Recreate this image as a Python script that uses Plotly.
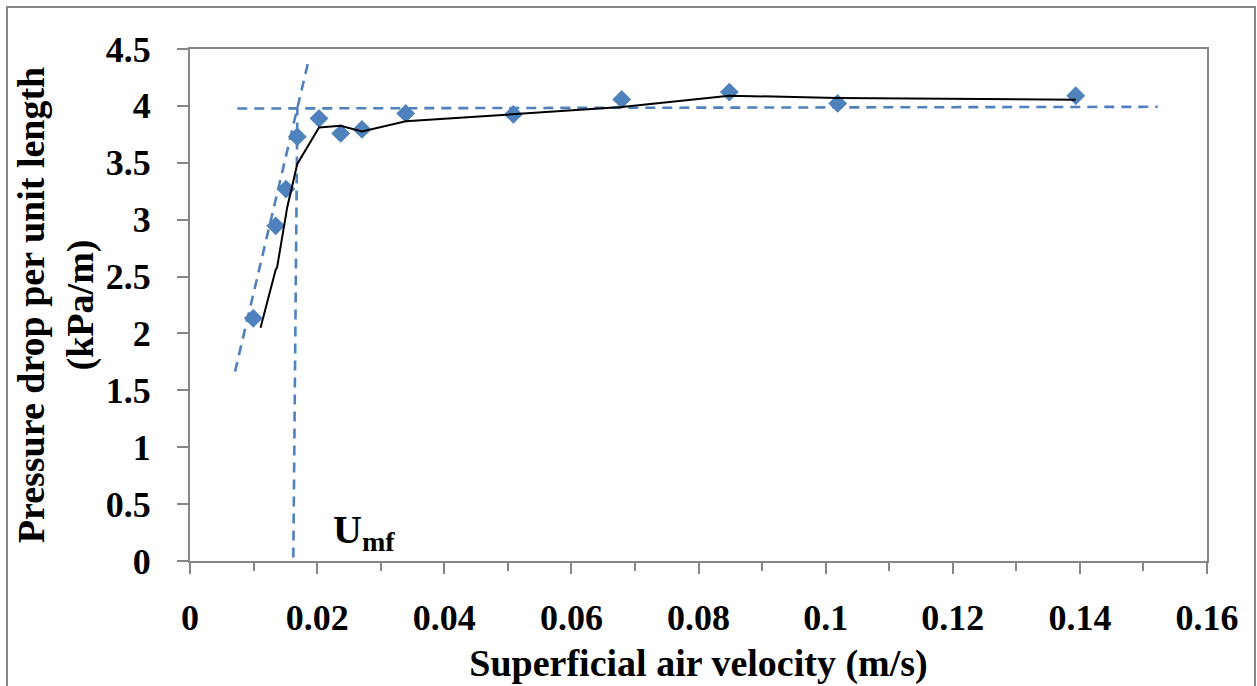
import plotly.graph_objects as go

# Measured pressure drop vs superficial air velocity
velocity = [0.00996, 0.01348, 0.0151, 0.01688, 0.0203, 0.02371, 0.02706,
            0.03394, 0.05087, 0.06792, 0.08485, 0.1019, 0.13935]
pressure_drop = [2.133, 2.946, 3.269, 3.729, 3.890, 3.758, 3.793,
                 3.934, 3.925, 4.057, 4.121, 4.022, 4.089]

# Moving-average trend line
trend_x = [0.0111, 0.01348, 0.0137, 0.0153, 0.01688, 0.0203, 0.02371, 0.02706,
           0.03394, 0.05087, 0.06792, 0.08485, 0.1019, 0.13935]
trend_y = [2.05, 2.56, 2.58, 3.11, 3.49, 3.81, 3.825, 3.775,
           3.865, 3.93, 3.99, 4.09, 4.07, 4.055]

# Construction lines used to locate the minimum fluidisation velocity
fixed_bed_x = [0.00708, 0.01861]
fixed_bed_y = [1.664, 4.388]
fluid_bed_x = [0.00744, 0.15225]
fluid_bed_y = [3.977, 3.992]
umf_x = [0.01626, 0.01689]
umf_y = [0.03, 3.98]

x_ticks = [0, 0.02, 0.04, 0.06, 0.08, 0.1, 0.12, 0.14, 0.16]
x_tick_text = ["0", "0.02", "0.04", "0.06", "0.08", "0.1", "0.12", "0.14", "0.16"]
y_ticks = [0, 0.5, 1, 1.5, 2, 2.5, 3, 3.5, 4, 4.5]
y_tick_text = ["0", "0.5", "1", "1.5", "2", "2.5", "3", "3.5", "4", "4.5"]

BLUE = "#4F81BD"
AXIS_GRAY = "#868686"
FONT = "Liberation Serif"

fig = go.Figure()

dash_style = dict(color=BLUE, width=2.6, dash="10px,7px")
fig.add_trace(go.Scatter(x=fixed_bed_x, y=fixed_bed_y, mode="lines", line=dash_style,
                         hoverinfo="skip"))
fig.add_trace(go.Scatter(x=fluid_bed_x, y=fluid_bed_y, mode="lines", line=dash_style,
                         hoverinfo="skip"))
fig.add_trace(go.Scatter(x=umf_x, y=umf_y, mode="lines", line=dash_style,
                         hoverinfo="skip"))

fig.add_trace(go.Scatter(x=velocity, y=pressure_drop, mode="markers",
                         marker=dict(symbol="diamond", size=14.5, color=BLUE,
                                     line=dict(width=0))))

fig.add_trace(go.Scatter(x=trend_x, y=trend_y, mode="lines",
                         line=dict(color="black", width=2)))

fig.add_annotation(
    x=0.0171, y=0.0, xref="x", yref="y",
    text="U<sub>mf</sub>", showarrow=False,
    xanchor="left", yanchor="bottom", xshift=32, yshift=2,
    font=dict(family=FONT, size=40, color="black", weight="bold"),
)

# Outer chart border
fig.add_shape(type="rect", xref="paper", yref="paper",
              x0=(7 - 190) / 1017, x1=(1255 - 190) / 1017,
              y0=(561 - 720) / 512, y1=(561 - 7) / 512,
              line=dict(color=AXIS_GRAY, width=2), layer="below")

axis_common = dict(
    showgrid=False, zeroline=False, showline=True, linecolor=AXIS_GRAY,
    linewidth=2, mirror=True, ticks="outside", tickcolor=AXIS_GRAY,
    tickwidth=2, ticklen=11,
    tickfont=dict(family=FONT, size=36, color="black", weight="bold"),
    title_font=dict(family=FONT, size=38, color="black", weight="bold"),
)

fig.update_xaxes(
    range=[0, 0.16], tickvals=x_ticks, ticktext=x_tick_text,
    minor=dict(dtick=0.01, tick0=0, ticks="outside", ticklen=8,
               tickcolor=AXIS_GRAY, tickwidth=2),
    ticklabelstandoff=13,
    title=dict(text="Superficial air velocity (m/s)", standoff=12,
               font=dict(size=39)),
    **axis_common,
)
fig.update_yaxes(
    range=[0, 4.5], tickvals=y_ticks, ticktext=y_tick_text,
    ticklabelstandoff=19,
    title=dict(text="Pressure drop per unit length<br>(kPa/m)", standoff=0),
    **axis_common,
)

fig.update_layout(
    width=1257, height=686,
    margin=dict(l=190, r=50, t=49, b=125, autoexpand=False),
    paper_bgcolor="white", plot_bgcolor="white",
    showlegend=False,
    font=dict(family=FONT, color="black"),
)

fig.write_html("out.html", config={"displayModeBar": False})
